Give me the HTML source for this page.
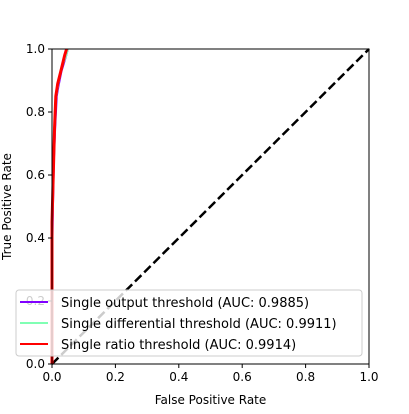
<!DOCTYPE html>
<html><head><meta charset="utf-8"><style>
body{margin:0;background:#fff;font-family:"Liberation Sans","DejaVu Sans",sans-serif}
</style></head><body>
<svg width="409" height="409" viewBox="0 0 409 409" xmlns="http://www.w3.org/2000/svg" font-family="DejaVu Sans, Liberation Sans, sans-serif">
<g id="plot"></g>
</svg>
<script>
const fprPurple=[0,0,0.003,0.006,0.01,0.015,0.02,0.03,0.045,0.05];
const tprPurple=[0,0.3,0.5,0.65,0.75,0.85,0.88,0.93,0.98,1];
const fprGreen=[0,0,0.004,0.008,0.012,0.02,0.03,0.045,0.05];
const tprGreen=[0,0.4,0.58,0.72,0.84,0.89,0.94,0.98,1];
const fprRed=[0,0,0.004,0.008,0.012,0.018,0.028,0.04,0.046];
const tprRed=[0,0.45,0.6,0.75,0.85,0.89,0.93,0.98,1];
const ticks=[0,0.2,0.4,0.6,0.8,1.0];
const tickLabels=["0.0","0.2","0.4","0.6","0.8","1.0"];
const legendLabels=["Single output threshold (AUC: 0.9885)","Single differential threshold (AUC: 0.9911)","Single ratio threshold (AUC: 0.9914)"];
const colors=["#8000ff","#80ffb4","#ff0000"];
const X0=52,X1=369,Y0=364,Y1=49;
const sx=v=>X0+v*(X1-X0), sy=v=>Y0-v*(Y0-Y1);
const NS="http://www.w3.org/2000/svg";
const g=document.getElementById('plot');
function mk(t,a,p){const e=document.createElementNS(NS,t);for(const k in a)e.setAttribute(k,a[k]);(p||g).appendChild(e);return e;}
function line(xs,ys,c,name,dash,w){const e=mk('polyline',{points:xs.map((x,i)=>sx(x)+','+sy(ys[i])).join(' '),fill:'none',stroke:c,'stroke-width':w||2,'stroke-dasharray':dash||''});

}
line([0,1],[0,1],'#000','diagonal-chance-line','9,4',2.5);
line(fprPurple,tprPurple,colors[0],'series-output-threshold');
line(fprGreen,tprGreen,colors[1],'series-differential-threshold');
line(fprRed,tprRed,colors[2],'series-ratio-threshold',null,3);
const fr=mk('rect',{x:X0,y:Y1,width:X1-X0,height:Y0-Y1,fill:'none',stroke:'#000','stroke-width':1});


ticks.forEach((t,i)=>{
 mk('line',{x1:sx(t),x2:sx(t),y1:Y0,y2:Y0+4,stroke:'#000'});
 const tx=mk('text',{x:sx(t),y:Y0+17,'font-size':12,'text-anchor':'middle'});tx.textContent=tickLabels[i];
 
 
 mk('line',{x1:X0-4,x2:X0,y1:sy(t),y2:sy(t),stroke:'#000'});
 const ty=mk('text',{x:X0-7,y:sy(t)+4,'font-size':12,'text-anchor':'end'});ty.textContent=tickLabels[i];
 
 
});
const xt=mk('text',{x:(X0+X1)/2,y:404,'font-size':12,'text-anchor':'middle'});xt.textContent='False Positive Rate';


const yt=mk('text',{x:11,y:(Y0+Y1)/2,'font-size':12,'text-anchor':'middle',transform:'rotate(-90 11 '+(Y0+Y1)/2+')'});yt.textContent='True Positive Rate';


const lg=mk('g',{});


mk('rect',{x:16,y:290,width:346,height:66,rx:3,fill:'#fff','fill-opacity':0.8,stroke:'#ccc'},lg);
legendLabels.forEach((l,i)=>{
 const y=302+i*21;
 mk('line',{x1:20,x2:48,y1:y,y2:y,stroke:colors[i],'stroke-width':2},lg);
 const t=mk('text',{x:61,y:y+5,'font-size':13},lg);t.textContent=l;
 
 
});
</script>
</body></html>
